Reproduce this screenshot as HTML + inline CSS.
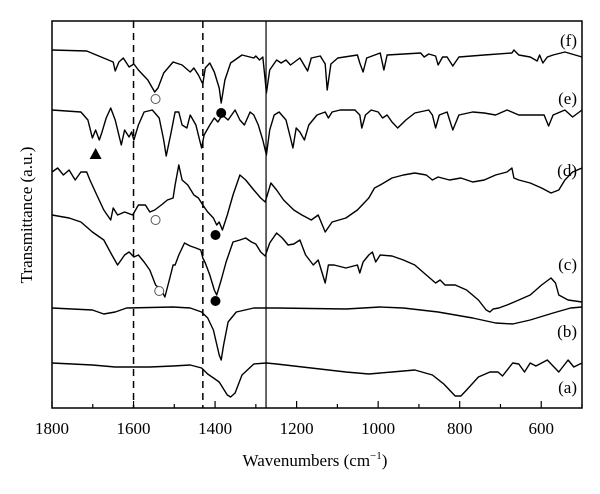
<!DOCTYPE html>
<html><head><meta charset="utf-8"><style>
html,body{margin:0;padding:0;background:#fff;}
svg{display:block;font-family:"Liberation Serif",serif;}
</style></head><body>
<svg id="chart" width="600" height="494" viewBox="0 0 600 494" xmlns="http://www.w3.org/2000/svg">
<rect x="52" y="21" width="530" height="387" fill="none" stroke="#000" stroke-width="1.5"/>
<g id="refs"></g>
<g id="ticks"></g>
<g id="series"></g>
<g id="markers"></g>
<g font-size="17" text-anchor="end">
<text x="577" y="46">(f)</text>
<text x="577" y="104">(e)</text>
<text x="577" y="176">(d)</text>
<text x="577" y="270">(c)</text>
<text x="577" y="337">(b)</text>
<text x="577" y="393">(a)</text>
</g>
<text x="315" y="466" font-size="17" text-anchor="middle">Wavenumbers (cm<tspan dy="-7" font-size="11">−1</tspan><tspan dy="7">)</tspan></text>
<text transform="translate(32,215) rotate(-90)" font-size="17" text-anchor="middle">Transmittance (a.u.)</text>
</svg>
<script>
const xTicks=[1800,1600,1400,1200,1000,800,600];
const minorTicks=[1700,1500,1300,1100,900,700,500];
const dashedLines=[1600,1430];
const solidLines=[1275];
const fW=[1800,1715,1650,1645,1636,1625,1611,1599,1588,1565,1548,1540,1526,1503,1481,1461,1452,1441,1430,1424,1413,1402,1390,1385,1376,1362,1334,1305,1300,1291,1283,1277,1274,1266,1249,1238,1226,1215,1192,1173,1164,1142,1130,1125,1116,1099,1051,1045,1037,1028,995,986,978,896,887,876,859,853,842,831,817,802,740,672,667,655,627,610,604,596,585,571,542,500];
const fV=[359,358,347,338,347,351,342,345,339,329,317,321,336,347,344,337,341,334,325,341,346,337,321,306,329,346,354,351,353,349,352,329,316,339,349,346,349,344,351,338,351,353,345,319,345,351,354,346,337,351,356,339,354,356,352,355,353,344,352,352,343,352,354,356,359,354,352,348,354,346,352,354,357,352];
const eW=[1800,1729,1712,1701,1693,1684,1678,1667,1656,1645,1630,1622,1611,1605,1599,1588,1574,1554,1537,1526,1520,1509,1498,1489,1481,1469,1461,1447,1438,1433,1427,1413,1402,1393,1382,1368,1351,1339,1328,1314,1305,1294,1283,1274,1266,1255,1243,1226,1215,1209,1201,1192,1181,1170,1150,1130,1122,1113,1093,1057,1045,1040,1031,1017,1000,989,978,966,952,932,910,876,867,859,850,831,817,802,768,740,712,684,655,593,582,571,542,523,500];
const eV=[299,297,289,271,279,269,276,291,301,289,264,279,272,277,269,284,297,299,291,269,253,274,297,297,284,281,294,284,269,261,274,284,291,287,294,289,299,289,284,297,294,284,269,254,279,294,297,289,271,261,281,277,269,284,294,297,291,297,299,299,294,281,294,299,297,291,294,287,281,289,296,299,294,281,294,297,279,294,297,296,294,299,294,294,283,294,299,292,299];
const dW=[1800,1786,1772,1758,1743,1729,1715,1707,1690,1673,1656,1650,1639,1622,1602,1588,1571,1560,1548,1532,1517,1503,1498,1489,1481,1467,1452,1441,1430,1418,1404,1396,1390,1382,1370,1356,1339,1325,1305,1288,1277,1263,1249,1232,1207,1187,1164,1147,1130,1113,1079,1051,1023,1009,995,966,938,910,882,867,853,825,797,768,740,712,684,672,667,655,627,599,576,557,542,523,500];
const dV=[237,241,234,239,229,237,237,229,214,199,189,201,194,197,194,204,204,197,199,204,209,211,224,244,229,224,214,211,204,197,191,184,187,179,194,214,234,229,219,211,207,226,219,209,199,194,189,194,177,187,191,199,211,221,224,231,234,236,234,229,232,229,231,227,229,234,237,241,231,229,226,221,216,219,229,237,241];
const cW=[1800,1758,1729,1701,1673,1653,1639,1622,1611,1599,1588,1574,1560,1546,1532,1523,1509,1503,1498,1489,1475,1461,1447,1435,1430,1424,1413,1402,1396,1385,1373,1356,1339,1325,1311,1300,1288,1277,1266,1249,1235,1221,1207,1192,1178,1159,1147,1130,1122,1108,1079,1051,1045,1037,1023,1014,1006,995,966,938,910,882,859,848,836,811,783,754,735,726,718,704,684,655,627,599,576,565,557,534,500];
const cV=[194,191,187,177,169,154,144,154,157,152,154,147,139,124,119,112,134,144,144,154,166,163,161,159,151,146,134,119,114,129,147,167,169,171,167,165,157,153,166,176,171,164,165,169,154,144,149,126,144,144,141,144,136,147,154,157,147,154,153,149,144,134,126,129,124,124,119,109,99,97,100,101,104,109,114,124,131,126,114,109,107];
const bW=[1800,1701,1673,1645,1617,1503,1461,1433,1418,1404,1390,1385,1379,1368,1348,1305,1249,1079,995,938,853,768,712,670,627,571,528,500];
const bV=[101,99,95,97,101,102,101,97,91,79,54,49,64,87,97,101,101,100,102,101,97,91,86,85,89,96,101,102];
const aW=[1800,1701,1645,1560,1503,1461,1433,1418,1390,1370,1362,1351,1334,1305,1274,1249,1164,1079,1023,966,910,867,839,811,797,783,754,726,706,695,670,655,641,627,613,585,557,534,520,500];
const aV=[46,44,42,42,43,44,41,35,27,14,12,16,34,45,46,45,41,37,35,37,39,34,25,13,13,19,32,37,37,33,46,45,37,46,43,49,37,49,42,46];
const triW=[1693],triV=[255];
const openW=[1546,1546,1537],openV=[310,189,118];
const fillW=[1385,1399,1399],fillV=[296,174,108];

const NS="http://www.w3.org/2000/svg";
const X0=52,X1=582,Y0=408,Y1=21;
function xs(w){return X0+(1800-w)*(X1-X0)/1300;}
function ys(v){return 409-v;}
function mk(tag,attrs,parent){const e=document.createElementNS(NS,tag);for(const k in attrs)e.setAttribute(k,attrs[k]);parent.appendChild(e);return e;}
const refs=document.getElementById('refs');
dashedLines.forEach(w=>{const l=mk('line',{x1:xs(w),x2:xs(w),y1:Y1,y2:Y0,stroke:'#000','stroke-width':1.5,'stroke-dasharray':'7,5'},refs);

});
solidLines.forEach(w=>{const l=mk('line',{x1:xs(w),x2:xs(w),y1:Y1,y2:Y0,stroke:'#000','stroke-width':1.2},refs);

});
const tk=document.getElementById('ticks');
xTicks.forEach(w=>{const l=mk('line',{x1:xs(w),x2:xs(w),y1:Y0,y2:Y0-7,stroke:'#000','stroke-width':1.2},tk);


const t=mk('text',{x:xs(w),y:434,'font-size':17,'text-anchor':'middle'},tk);t.textContent=w;

});
minorTicks.forEach(w=>{const l=mk('line',{x1:xs(w),x2:xs(w),y1:Y0,y2:Y0-4,stroke:'#000','stroke-width':1.2},tk);

});
const sg=document.getElementById('series');
[['f',fW,fV],['e',eW,eV],['d',dW,dV],['c',cW,cV],['b',bW,bV],['a',aW,aV]].forEach(s=>{
 let d='';s[1].forEach((w,i)=>{d+=(i?'L':'M')+xs(w).toFixed(1)+','+ys(s[2][i]).toFixed(1);});
 const p=mk('path',{d:d,fill:'none',stroke:'#000','stroke-width':1.4,'stroke-linejoin':'round'},sg);
 
 
});
const mg=document.getElementById('markers');
triW.forEach((w,i)=>{const x=xs(w),y=ys(triV[i]);const p=mk('polygon',{points:`${x-6},${y+5} ${x+6},${y+5} ${x},${y-6}`,fill:'#000'},mg);

});
openW.forEach((w,i)=>{const c=mk('circle',{cx:xs(w),cy:ys(openV[i]),r:4.5,fill:'#fff',stroke:'#555','stroke-width':1},mg);

});
fillW.forEach((w,i)=>{const c=mk('circle',{cx:xs(w),cy:ys(fillV[i]),r:5,fill:'#000'},mg);

});
</script>
</body></html>
